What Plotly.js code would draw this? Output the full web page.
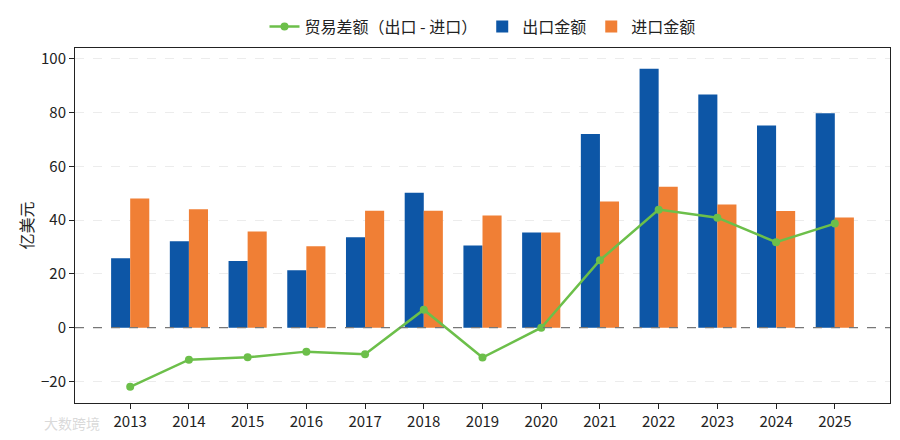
<!DOCTYPE html>
<html><head><meta charset="utf-8">
<script src="https://cdn.plot.ly/plotly-3.0.1.min.js"></script>
<style>body{margin:0}#chart{width:900px;height:440px}</style>
</head><body><div id="chart"></div>
<script>
// 年份与金额（亿美元）
var years = ['2013','2014','2015','2016','2017','2018','2019','2020','2021','2022','2023','2024','2025'];
var exportVals = [25.8, 32.1, 24.8, 21.4, 33.6, 50.2, 30.6, 35.4, 72.0, 96.3, 86.7, 75.2, 79.7];
var importVals = [48.0, 44.0, 35.8, 30.3, 43.5, 43.5, 41.7, 35.4, 46.9, 52.4, 45.8, 43.4, 41.0];
var balanceVals = [-22.0, -11.9, -11.0, -8.9, -9.9, 6.7, -11.1, 0.0, 25.1, 43.9, 40.9, 31.8, 38.7];

var font = 'Noto Sans CJK SC, Noto Sans, sans-serif';

var traces = [
  {x: years, y: balanceVals, type: 'scatter', mode: 'lines+markers', name: '贸易差额（出口 - 进口）',
   line: {color: '#6cbf4a', width: 2.5}, marker: {size: 8, color: '#6cbf4a'}},
  {x: years, y: exportVals, type: 'bar', name: '出口金额', marker: {color: '#0d56a6'}},
  {x: years, y: importVals, type: 'bar', name: '进口金额', marker: {color: '#f07f35'}}
];

var layout = {
  width: 900, height: 440,
  margin: {l: 75, r: 10, t: 42, b: 37},
  font: {family: font, size: 15, color: '#222'},
  paper_bgcolor: '#fff', plot_bgcolor: '#fff',
  barmode: 'group', bargap: 0.35, bargroupgap: 0,
  showlegend: true,
  legend: {orientation: 'h', x: 0.5, xanchor: 'center', y: 1.06, yanchor: 'middle', font: {size: 16},
           traceorder: 'normal', bgcolor: 'rgba(0,0,0,0)'},
  xaxis: {type: 'category', showline: true, mirror: true, linecolor: '#222', ticks: 'outside', ticklen: 5, tickcolor: '#222',
          showgrid: false, range: [-0.94, 12.94]},
  yaxis: {title: {text: '亿美元', font: {size: 16}}, range: [-28, 104], dtick: 20, showline: true, mirror: true,
          linecolor: '#222', ticks: 'outside', ticklen: 5, tickcolor: '#222',
          gridcolor: '#ececec', griddash: 'dash', zeroline: false},
  shapes: [{type: 'line', xref: 'paper', x0: 0, x1: 1, yref: 'y', y0: 0, y1: 0,
            line: {color: '#777', width: 1.2, dash: 'dash'}}],
  annotations: [{text: '大数跨境', xref: 'paper', yref: 'paper', x: -0.04, y: -0.09, showarrow: false,
                 font: {size: 14, color: 'rgba(180,180,180,0.5)'}}]
};

Plotly.newPlot('chart', traces, layout, {displayModeBar: false});
</script></body></html>
